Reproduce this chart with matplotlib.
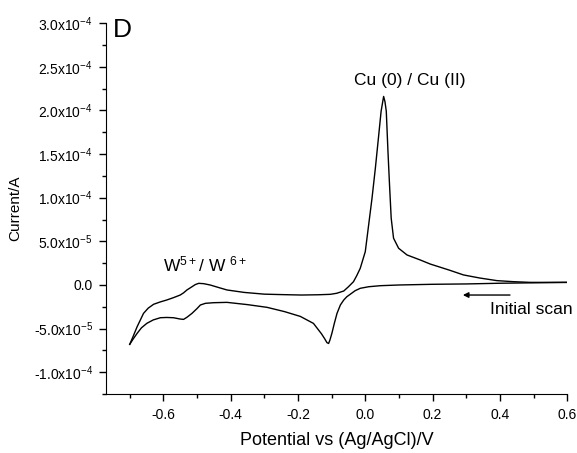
import matplotlib
matplotlib.use("Agg")
from matplotlib import pyplot as plt
from matplotlib.ticker import MultipleLocator
import numpy as np

plt.rcParams['font.family'] = ['Liberation Sans', 'DejaVu Sans']
plt.rcParams['mathtext.default'] = 'regular'

# initial (cathodic) scan, 0.6 V -> -0.7 V ; current in units of 1e-5 A
fwd_E = [0.60, 0.50, 0.40, 0.30, 0.20, 0.10, 0.045, 0.01, -0.015, -0.03,
         -0.045, -0.055, -0.064, -0.074, -0.084, -0.092, -0.099, -0.105, -0.109,
         -0.114, -0.12, -0.13, -0.154, -0.193, -0.24, -0.292, -0.35, -0.411,
         -0.451, -0.475, -0.49, -0.50, -0.515, -0.53, -0.54, -0.55, -0.57,
         -0.59, -0.609, -0.63, -0.649, -0.665, -0.678, -0.69, -0.70]
fwd_I = [0.3, 0.25, 0.2, 0.12, 0.08, 0.0, -0.08, -0.2, -0.38, -0.65,
         -1.07, -1.35, -1.72, -2.29, -3.25, -4.4, -5.5, -6.3, -6.7,
         -6.6, -6.2, -5.6, -4.4, -3.6, -3.05, -2.56, -2.25, -1.99,
         -2.03, -2.1, -2.29, -2.7, -3.25, -3.7, -3.94, -3.9, -3.75,
         -3.72, -3.75, -4.0, -4.39, -4.9, -5.54, -6.2, -6.8]

# reverse (anodic) scan, -0.7 V -> 0.6 V
rev_E = [-0.70, -0.69, -0.678, -0.659, -0.645, -0.629, -0.61, -0.59, -0.57,
         -0.55, -0.54, -0.53, -0.515, -0.505, -0.495, -0.48, -0.461, -0.435,
         -0.411, -0.36, -0.30, -0.25, -0.19, -0.14, -0.104, -0.085, -0.064,
         -0.05, -0.035, -0.025, -0.015, 0.0, 0.010, 0.020, 0.030, 0.040,
         0.047, 0.0545, 0.0585, 0.0624, 0.0674, 0.072, 0.077, 0.084, 0.099,
         0.124, 0.163, 0.193, 0.25, 0.292, 0.34, 0.391, 0.44, 0.49, 0.55, 0.60]
rev_I = [-6.8, -5.9, -4.78, -3.25, -2.65, -2.21, -1.95, -1.72, -1.45,
         -1.15, -0.9, -0.57, -0.2, 0.05, 0.19, 0.15, 0.0, -0.3,
         -0.57, -0.85, -1.05, -1.1, -1.15, -1.12, -1.07, -0.95, -0.69,
         -0.2, 0.38, 1.1, 1.91, 3.82, 6.88, 9.94, 13.4, 17.2,
         19.9, 21.6, 21.0, 19.9, 15.3, 11.5, 7.65, 5.36, 4.21,
         3.44, 2.87, 2.4, 1.7, 1.15, 0.8, 0.5, 0.38, 0.3, 0.3, 0.3]

yticks = [-1.0e-4, -5.0e-5, 0.0, 5.0e-5, 1.0e-4, 1.5e-4, 2.0e-4, 2.5e-4, 3.0e-4]
ytick_labels = [r'-1.0x10$^{-4}$', r'-5.0x10$^{-5}$', '0.0', r'5.0x10$^{-5}$',
                r'1.0x10$^{-4}$', r'1.5x10$^{-4}$', r'2.0x10$^{-4}$',
                r'2.5x10$^{-4}$', r'3.0x10$^{-4}$']
xticks = [-0.6, -0.4, -0.2, 0.0, 0.2, 0.4, 0.6]
xtick_labels = ['-0.6', '-0.4', '-0.2', '0.0', '0.2', '0.4', '0.6']

fig = plt.figure(figsize=(5.77, 4.53), dpi=100)
ax = fig.add_axes([0.184, 0.130, 0.799, 0.819])

ax.plot(fwd_E, np.array(fwd_I) * 1e-5, color='black', lw=1.0)
ax.plot(rev_E, np.array(rev_I) * 1e-5, color='black', lw=1.0)

ax.set_xlim(-0.77, 0.6)
ax.set_ylim(-1.25e-4, 3.0e-4)

ax.spines['right'].set_color('none')
ax.spines['top'].set_color('none')
ax.xaxis.set_ticks_position('bottom')
ax.yaxis.set_ticks_position('left')

ax.set_xticks(xticks)
ax.set_xticklabels(xtick_labels)
ax.set_yticks(yticks)
ax.set_yticklabels(ytick_labels)
ax.xaxis.set_minor_locator(MultipleLocator(0.1))
ax.yaxis.set_minor_locator(MultipleLocator(2.5e-5))
ax.tick_params(which='major', direction='out', length=5, width=1, labelsize=10)
ax.tick_params(which='minor', direction='out', length=3, width=1)
ax.tick_params(axis='x', which='major', pad=5)
ax.tick_params(axis='y', which='major', pad=4.5)

ax.set_xlabel('Potential vs (Ag/AgCl)/V', fontsize=13, labelpad=7)
ax.set_ylabel('Current/A', fontsize=11, labelpad=8)

ax.text(0.015, 1.015, 'D', transform=ax.transAxes, fontsize=19, va='top', ha='left')
ax.text(0.131, 2.29e-4, 'Cu (0) / Cu (II)', fontsize=12.5, ha='center', va='baseline')
ax.text(-0.60, 1.5e-5, r'W$^{5+}$/ W $^{6+}$', fontsize=12.5, ha='left', va='baseline')
ax.text(0.371, -3.33e-5, 'Initial scan', fontsize=12.5, ha='left', va='baseline')
ax.annotate('', xy=(0.29, -1.15e-5), xytext=(0.43, -1.15e-5),
            arrowprops=dict(arrowstyle='-|>', color='black', lw=1.0,
                            mutation_scale=8, shrinkA=0, shrinkB=0))

fig.savefig('out.png', dpi=100)
